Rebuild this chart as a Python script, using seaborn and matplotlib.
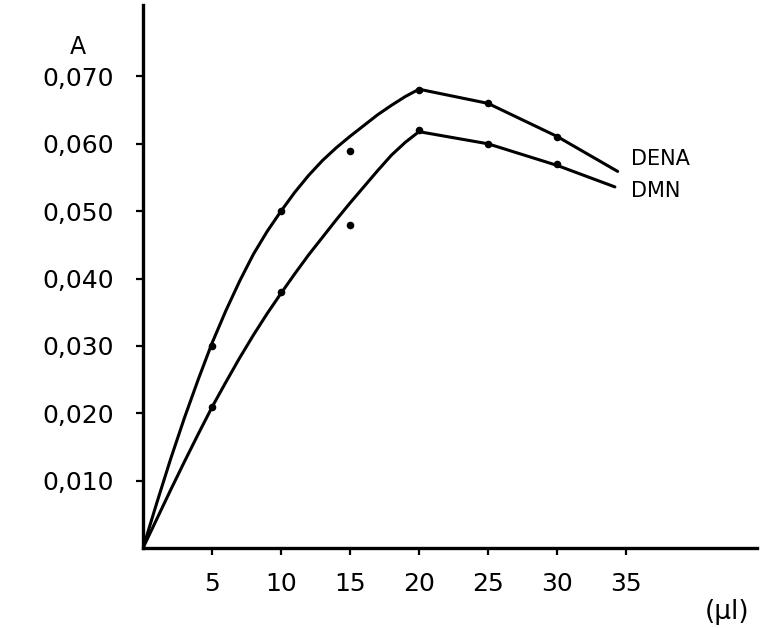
import numpy as np
import pandas as pd
import matplotlib
matplotlib.use("Agg")
import matplotlib.pyplot as plt
import seaborn as sns

# Measured absorbance at each sample volume (µl)
volumes = [5, 10, 15, 20, 25, 30]
dena_points = [0.030, 0.050, 0.059, 0.068, 0.066, 0.061]
dmn_points = [0.021, 0.038, 0.048, 0.062, 0.060, 0.057]

# Hand-fitted curves through the measurements
dena_curve_x = [0, 1, 2, 3, 4, 5, 6, 7, 8, 9, 10, 11, 12, 13, 14, 15, 16, 17,
                18, 19, 20, 25, 30, 34.4]
dena_curve_y = [0.0, 0.0067, 0.0132, 0.0193, 0.0250, 0.0304, 0.0352, 0.0396,
                0.0436, 0.0470, 0.0500, 0.0528, 0.0553, 0.0575, 0.0594, 0.0611,
                0.0627, 0.0643, 0.0657, 0.0670, 0.0681, 0.0660, 0.0611, 0.0559]
dmn_curve_x = [0, 1, 2, 3, 4, 5, 6, 7, 8, 9, 10, 11, 12, 13, 14, 15, 16, 17,
               18, 19, 20, 25, 30, 34.2]
dmn_curve_y = [0.0, 0.0043, 0.0086, 0.0128, 0.0169, 0.0209, 0.0246, 0.0282,
               0.0316, 0.0348, 0.0378, 0.0407, 0.0435, 0.0461, 0.0487, 0.0512,
               0.0536, 0.0560, 0.0583, 0.0602, 0.0618, 0.0600, 0.0568, 0.0536]

x_ticks = [5, 10, 15, 20, 25, 30, 35]
y_ticks = [0.010, 0.020, 0.030, 0.040, 0.050, 0.060, 0.070]
y_tick_labels = ["0,010", "0,020", "0,030", "0,040", "0,050", "0,060", "0,070"]

curves = pd.concat([
    pd.DataFrame({"vol": dena_curve_x, "abs": dena_curve_y, "serie": "DENA"}),
    pd.DataFrame({"vol": dmn_curve_x, "abs": dmn_curve_y, "serie": "DMN"}),
], ignore_index=True)
points = pd.concat([
    pd.DataFrame({"vol": volumes, "abs": dena_points, "serie": "DENA"}),
    pd.DataFrame({"vol": volumes, "abs": dmn_points, "serie": "DMN"}),
], ignore_index=True)

sns.set_theme(style="white")
plt.rcParams["font.family"] = ["DejaVu Sans"]
plt.rcParams["text.color"] = "black"
plt.rcParams["xtick.color"] = "black"
plt.rcParams["ytick.color"] = "black"

fig = plt.figure(figsize=(7.78, 6.28), dpi=100)
ax = fig.add_axes([143 / 778, 1 - 548 / 628, (757 - 143) / 778, (548 - 5) / 628])

sns.lineplot(data=curves, x="vol", y="abs", hue="serie",
             palette={"DENA": "black", "DMN": "black"}, sort=False,
             estimator=None, linewidth=2.2, legend=False, ax=ax)
sns.scatterplot(data=points, x="vol", y="abs", color="black", s=30,
                edgecolor="black", linewidth=0, legend=False, ax=ax, zorder=3)

ax.set_xlim(0, 44.5)
ax.set_ylim(0, 0.0806)
ax.set_xticks(x_ticks)
ax.set_yticks(y_ticks)
ax.set_yticklabels(y_tick_labels)
ax.set_xlabel("")
ax.set_ylabel("")

for side in ("top", "right"):
    ax.spines[side].set_visible(False)
for side in ("left", "bottom"):
    ax.spines[side].set_linewidth(2.4)
    ax.spines[side].set_color("black")

ax.tick_params(axis="y", direction="out", length=5, width=1.6, colors="black",
               pad=16, labelsize=18, left=True)
ax.tick_params(axis="x", direction="out", length=5, width=1.6, colors="black",
               pad=12, labelsize=18, bottom=True)

ax.text(35.4, 0.0577, "DENA", ha="left", va="center", fontsize=15, color="black")
ax.text(35.4, 0.0530, "DMN", ha="left", va="center", fontsize=15, color="black")

fig.text(78 / 778, 1 - 47 / 628, "A", ha="center", va="center", fontsize=17,
         color="black")
fig.text(727 / 778, 1 - 612 / 628, "(μl)", ha="center", va="center",
         fontsize=19, color="black")

fig.savefig("out.png", dpi=100, facecolor="white")
